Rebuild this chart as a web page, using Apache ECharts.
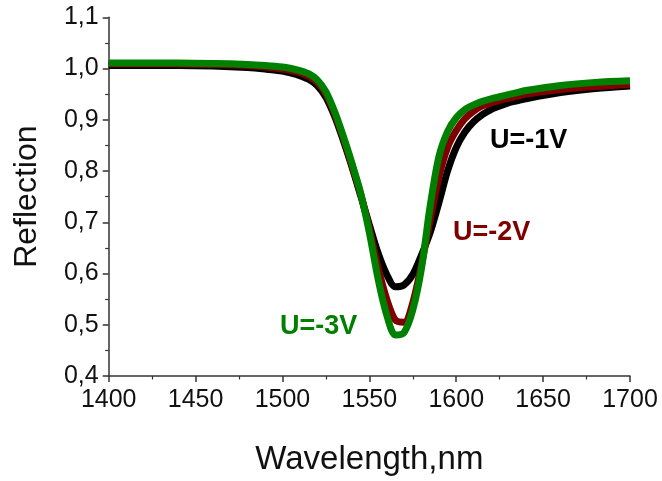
<!DOCTYPE html>
<html>
<head>
<meta charset="utf-8">
<script src="https://cdn.jsdelivr.net/npm/echarts@6/dist/echarts.min.js"></script>
<style>
  html, body { margin: 0; padding: 0; background: #fff; }
  #chart { width: 662px; height: 481px; }
</style>
</head>
<body>
<div id="chart"></div>
<script>
// Reflection spectra of the resonator under three bias voltages
const wavelengths = [1400, 1420, 1440, 1460, 1480, 1490,
  1500, 1505, 1510, 1515, 1520, 1525, 1530, 1535, 1540, 1545,
  1550, 1555, 1560, 1565, 1570, 1575, 1580, 1585, 1590, 1595,
  1600, 1605, 1610, 1615, 1620, 1625, 1630, 1635, 1640,
  1660, 1680, 1700];

const reflU1 = [1.006, 1.006, 1.006, 1.005, 1.002, 0.999,
  0.995, 0.991, 0.986, 0.979, 0.967, 0.944, 0.907, 0.860, 0.808, 0.752,
  0.695, 0.640, 0.598, 0.574, 0.578, 0.598, 0.636, 0.680, 0.738, 0.800,
  0.846, 0.876, 0.896, 0.910, 0.920, 0.927, 0.933, 0.937, 0.941,
  0.953, 0.961, 0.966];

const reflU2 = [1.009, 1.009, 1.009, 1.008, 1.006, 1.003,
  0.999, 0.996, 0.992, 0.985, 0.973, 0.950, 0.912, 0.864, 0.811, 0.755,
  0.688, 0.612, 0.550, 0.509, 0.505, 0.543, 0.617, 0.705, 0.788, 0.846,
  0.879, 0.902, 0.917, 0.927, 0.933, 0.938, 0.942, 0.946, 0.950,
  0.959, 0.965, 0.969];

const reflU3 = [1.011, 1.011, 1.011, 1.010, 1.008, 1.006,
  1.003, 1.000, 0.996, 0.990, 0.978, 0.955, 0.916, 0.868, 0.815, 0.757,
  0.680, 0.590, 0.519, 0.480, 0.485, 0.529, 0.610, 0.732, 0.828, 0.877,
  0.904, 0.920, 0.929, 0.936, 0.941, 0.945, 0.949, 0.953, 0.957,
  0.967, 0.973, 0.976];

const seriesNames = ['U=-1V', 'U=-2V', 'U=-3V'];
const seriesColors = ['#000000', '#800000', '#008000'];

const xTickLabels = ['1400', '1450', '1500', '1550', '1600', '1650', '1700'];
const yTickLabels = ['0,4', '0,5', '0,6', '0,7', '0,8', '0,9', '1,0', '1,1'];

const font = '"Liberation Sans", Arial, sans-serif';
const pairs = (ys) => wavelengths.map((w, i) => [w, ys[i]]);

const chart = echarts.init(document.getElementById('chart'), null, { renderer: 'canvas' });

const axisCommon = {
  axisLine: { show: true, lineStyle: { color: '#333', width: 1.5 } },
  axisTick: { show: true, inside: false, length: 6, lineStyle: { color: '#333', width: 1.5 } },
  minorTick: { show: true, splitNumber: 2, length: 3.5, lineStyle: { color: '#333', width: 1.2 } },
  splitLine: { show: false }
};

chart.setOption({
  animation: false,
  backgroundColor: '#fff',
  grid: { left: 108.7, right: 32, top: 17.3, bottom: 101.7 },
  xAxis: Object.assign({}, axisCommon, {
    type: 'value', min: 1400, max: 1700, interval: 50,
    name: 'Wavelength,nm', nameLocation: 'middle', nameGap: 67,
    nameTextStyle: { fontFamily: font, fontSize: 33, color: '#111' },
    axisLabel: {
      margin: 12, fontFamily: font, fontSize: 25, color: '#111',
      formatter: (v) => xTickLabels[Math.round((v - 1400) / 50)]
    }
  }),
  yAxis: Object.assign({}, axisCommon, {
    type: 'value', min: 0.4, max: 1.1, interval: 0.1,
    name: 'Reflection', nameLocation: 'middle', nameGap: 66, nameRotate: 90,
    nameTextStyle: { fontFamily: font, fontSize: 32, color: '#111' },
    axisLabel: {
      margin: 10, fontFamily: font, fontSize: 25, color: '#111',
      formatter: (v) => yTickLabels[Math.round((v - 0.4) / 0.1)]
    }
  }),
  series: [reflU1, reflU2, reflU3].map((ys, i) => ({
    name: seriesNames[i],
    type: 'line',
    data: pairs(ys),
    smooth: 0.3,
    showSymbol: false,
    symbol: 'none',
    lineStyle: { color: seriesColors[i], width: 7 },
    z: 2 + i
  })),
  graphic: [
    { type: 'text', left: 490, top: 127, style: { text: seriesNames[0], fill: seriesColors[0], font: 'bold 27px ' + font } },
    { type: 'text', left: 453, top: 219, style: { text: seriesNames[1], fill: seriesColors[1], font: 'bold 27px ' + font } },
    { type: 'text', left: 280, top: 313, style: { text: seriesNames[2], fill: seriesColors[2], font: 'bold 27px ' + font } }
  ]
});
</script>
</body>
</html>
